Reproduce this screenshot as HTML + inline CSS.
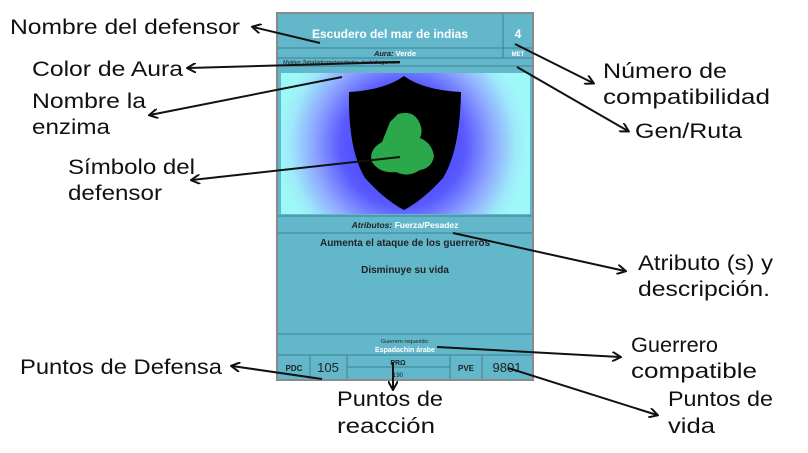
<!DOCTYPE html>
<html><head><meta charset="utf-8"><style>
body{margin:0;background:#fff;}
svg{display:block}
.l{font-family:"Liberation Sans",sans-serif;font-size:21px;fill:#111}
.c{font-family:"Liberation Sans",sans-serif;fill:#fff;font-weight:bold;text-anchor:middle}
.d{font-family:"Liberation Sans",sans-serif;fill:#222;text-anchor:middle}
</style></head><body>
<svg width="808" height="453" viewBox="0 0 808 453" xmlns="http://www.w3.org/2000/svg">
<defs>
<radialGradient id="g" cx="403" cy="145" r="125" gradientUnits="userSpaceOnUse">
<stop offset="0" stop-color="#3030ff"/><stop offset="0.5" stop-color="#5a5aff"/><stop offset="0.72" stop-color="#8fa8ff"/><stop offset="0.9" stop-color="#9ee8fa"/><stop offset="1" stop-color="#9ef8f8"/>
</radialGradient>
<marker id="a" markerWidth="10" markerHeight="10" refX="8" refY="5" orient="auto" markerUnits="userSpaceOnUse"><path d="M0,0 L9,5 L0,10" fill="none" stroke="#111" stroke-width="2"/></marker>
</defs>
<rect x="277" y="13" width="256" height="367" fill="#62b7cb" stroke="#8a8a8a" stroke-width="2"/>
<g stroke="#3d7f90" stroke-width="1" fill="none">
<line x1="278" y1="48" x2="532" y2="48"/><line x1="278" y1="58" x2="532" y2="58"/><line x1="278" y1="66" x2="532" y2="66"/>
<line x1="503" y1="14" x2="503" y2="58"/>
<line x1="278" y1="216" x2="532" y2="216"/><line x1="278" y1="233" x2="532" y2="233"/>
<line x1="278" y1="334" x2="532" y2="334"/><line x1="278" y1="355" x2="532" y2="355"/>
<line x1="310" y1="355" x2="310" y2="379"/><line x1="347" y1="355" x2="347" y2="379"/><line x1="347" y1="367" x2="450" y2="367"/>
<line x1="450" y1="355" x2="450" y2="379"/><line x1="482" y1="355" x2="482" y2="379"/>
</g>
<rect x="281" y="73" width="249" height="141" fill="url(#g)"/>
<path d="M404,76 Q385,90 349,92 Q348,150 365,178 Q385,200 404,210 Q423,200 443,178 Q460,150 461,92 Q423,90 404,76Z" fill="#000"/>
<path d="M398,114 Q412,110 418,120 Q424,130 420,138 Q432,143 434,156 Q432,168 420,170 Q408,178 396,172 Q380,174 372,162 Q368,150 382,142 Q386,132 390,122Z" fill="#2aa84a"/>
<text x="390" y="38" class="c" font-size="12">Escudero del mar de indias</text>
<text x="518" y="38" class="c" font-size="12">4</text>
<text x="395" y="56" class="c" font-size="7.5"><tspan fill="#222" font-style="italic">Aura:</tspan> Verde</text>
<text x="518" y="56" class="c" font-size="6" font-weight="normal" fill="#dff">MET</text>
<text x="283" y="64" font-family="Liberation Sans" font-size="5.5" font-style="italic" fill="#222">Metilen Tetrahidrometanoferina deshidrogenasa</text>
<text x="405" y="228" class="c" font-size="8.5"><tspan fill="#222" font-style="italic">Atributos:</tspan> Fuerza/Pesadez</text>
<text x="405" y="246" class="d" font-size="10" font-weight="bold">Aumenta el ataque de los guerreros</text>
<text x="405" y="273" class="d" font-size="10" font-weight="bold">Disminuye su vida</text>
<text x="405" y="343" class="d" font-size="5.5">Guerrero requerido:</text>
<text x="405" y="352" class="c" font-size="7">Espadachin árabe</text>
<text x="294" y="371" class="d" font-size="8" font-weight="bold">PDC</text>
<text x="328" y="372" class="d" font-size="13">105</text>
<text x="398" y="365" class="d" font-size="7" font-weight="bold">PRΩ</text>
<text x="398" y="377" class="d" font-size="6">190</text>
<text x="466" y="371" class="d" font-size="8" font-weight="bold">PVE</text>
<text x="507" y="372" class="d" font-size="13">9801</text>
<g stroke="#111" stroke-width="2" fill="none" marker-end="url(#a)">
<line x1="320" y1="43" x2="253" y2="27"/>
<line x1="400" y1="62" x2="188" y2="68"/>
<line x1="342" y1="77" x2="150" y2="115"/>
<line x1="400" y1="157" x2="192" y2="180"/>
<line x1="515" y1="44" x2="593" y2="83"/>
<line x1="517" y1="67" x2="628" y2="131"/>
<line x1="453" y1="233" x2="625" y2="271"/>
<line x1="437" y1="347" x2="620" y2="357"/>
<line x1="508" y1="368" x2="657" y2="415"/>
<line x1="322" y1="379" x2="232" y2="366"/>
<line x1="393" y1="362" x2="393" y2="389"/>
</g>
<g lengthAdjust="spacingAndGlyphs">
<text x="10" y="34" class="l" textLength="230" lengthAdjust="spacingAndGlyphs">Nombre del defensor</text>
<text x="32" y="76" class="l" textLength="151" lengthAdjust="spacingAndGlyphs">Color de Aura</text>
<text x="32" y="108" class="l" textLength="114" lengthAdjust="spacingAndGlyphs">Nombre la</text>
<text x="32" y="134" class="l" textLength="78" lengthAdjust="spacingAndGlyphs">enzima</text>
<text x="68" y="174" class="l" textLength="127" lengthAdjust="spacingAndGlyphs">Símbolo del</text>
<text x="68" y="200" class="l" textLength="94" lengthAdjust="spacingAndGlyphs">defensor</text>
<text x="603" y="78" class="l" textLength="124" lengthAdjust="spacingAndGlyphs">Número de</text>
<text x="603" y="104" class="l" textLength="167" lengthAdjust="spacingAndGlyphs">compatibilidad</text>
<text x="635" y="138" class="l" textLength="107" lengthAdjust="spacingAndGlyphs">Gen/Ruta</text>
<text x="638" y="270" class="l" textLength="135" lengthAdjust="spacingAndGlyphs">Atributo (s) y</text>
<text x="638" y="296" class="l" textLength="132" lengthAdjust="spacingAndGlyphs">descripción.</text>
<text x="631" y="352" class="l" textLength="87" lengthAdjust="spacingAndGlyphs">Guerrero</text>
<text x="631" y="378" class="l" textLength="126" lengthAdjust="spacingAndGlyphs">compatible</text>
<text x="668" y="406" class="l" textLength="105" lengthAdjust="spacingAndGlyphs">Puntos de</text>
<text x="668" y="433" class="l" textLength="47" lengthAdjust="spacingAndGlyphs">vida</text>
<text x="20" y="374" class="l" textLength="202" lengthAdjust="spacingAndGlyphs">Puntos de Defensa</text>
<text x="337" y="406" class="l" textLength="106" lengthAdjust="spacingAndGlyphs">Puntos de</text>
<text x="337" y="433" class="l" textLength="98" lengthAdjust="spacingAndGlyphs">reacción</text>
</g>
</svg>
</body></html>
